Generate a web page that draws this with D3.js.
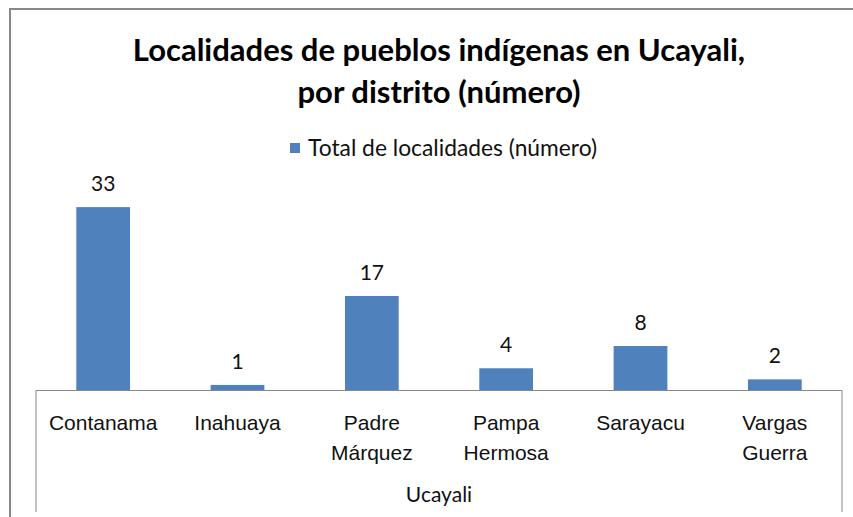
<!DOCTYPE html>
<html>
<head>
<meta charset="utf-8">
<script src="https://cdn.jsdelivr.net/npm/d3@7"></script>
<style>
  html, body { margin: 0; padding: 0; background: #fff; }
  svg { display: block; font-family: Lato, "Open Sans", sans-serif; }
</style>
</head>
<body>
<svg id="chart" width="853" height="517"></svg>
<script>
var titleLines = ['Localidades de pueblos indígenas en Ucayali,', 'por distrito (número)'];
var seriesName = 'Total de localidades (número)';
var groupLabel = 'Ucayali';
var categories = ['Contanama', 'Inahuaya', 'Padre Márquez', 'Pampa Hermosa', 'Sarayacu', 'Vargas Guerra'];
var categoryLines = [['Contanama'], ['Inahuaya'], ['Padre', 'Márquez'], ['Pampa', 'Hermosa'], ['Sarayacu'], ['Vargas', 'Guerra']];
var values = [33, 1, 17, 4, 8, 2];

var svg = d3.select('#chart');
var barColor = '#4f81bd';
var lineColor = '#878787';
var textColor = '#111';
var labelSize = '21px';

var plot = {left: 36, right: 842, bottom: 390.5, top: 196};

var x = d3.scaleBand()
    .domain(categories)
    .range([plot.left, plot.right])
    .paddingInner(0.6)
    .paddingOuter(0.3);

var y = d3.scaleLinear()
    .domain([0, 35])
    .range([plot.bottom, plot.top]);

// chart frame (cut by the window on the right and bottom)
svg.append('rect')
    .attr('x', 10).attr('y', 9)
    .attr('width', 900).attr('height', 600)
    .attr('fill', 'none')
    .attr('stroke', '#888')
    .attr('stroke-width', 2);

// title
svg.append('text')
    .attr('text-anchor', 'middle')
    .style('font-weight', 'bold')
    .style('font-size', '31px')
    .attr('fill', '#000')
  .selectAll('tspan')
    .data(titleLines)
  .enter().append('tspan')
    .attr('x', 439)
    .attr('y', function(d, i) { return 61 + i * 42; })
    .text(function(d) { return d; });

// legend
var legend = svg.append('g');
legend.append('rect')
    .attr('x', 290).attr('y', 143)
    .attr('width', 10).attr('height', 10)
    .attr('fill', barColor);
legend.append('text')
    .attr('x', 308).attr('y', 156)
    .style('font-size', '22.8px')
    .attr('fill', textColor)
    .text(seriesName);

// bars
svg.selectAll('rect.bar')
    .data(values)
  .enter().append('rect')
    .classed('bar', true)
    .attr('x', function(d, i) { return x(categories[i]); })
    .attr('y', function(d) { return y(d); })
    .attr('width', x.bandwidth())
    .attr('height', function(d) { return y(0) - y(d); })
    .attr('fill', barColor);

// data labels
svg.selectAll('text.label')
    .data(values)
  .enter().append('text')
    .classed('label', true)
    .attr('x', function(d, i) { return x(categories[i]) + x.bandwidth() / 2; })
    .attr('y', function(d) { return y(d) - 16; })
    .attr('text-anchor', 'middle')
    .style('font-size', labelSize)
    .attr('fill', textColor)
    .text(function(d) { return d; });

// category axis
var xAxis = d3.axisBottom(x).tickSize(0).tickFormat('');
var gx = svg.append('g')
    .attr('transform', 'translate(0,' + plot.bottom + ')')
    .call(xAxis);
gx.select('.domain').remove();

gx.selectAll('.tick').each(function(d) {
    var lines = categoryLines[categories.indexOf(d)];
    d3.select(this).select('text').remove();
    d3.select(this).append('text')
        .attr('text-anchor', 'middle')
        .style('font-size', labelSize)
        .attr('fill', textColor)
      .selectAll('tspan')
        .data(lines)
      .enter().append('tspan')
        .attr('x', 0)
        .attr('y', function(l, i) { return 39 + i * 30; })
        .text(function(l) { return l; });
});

svg.append('line')
    .attr('x1', plot.left).attr('x2', plot.right)
    .attr('y1', plot.bottom).attr('y2', plot.bottom)
    .attr('stroke', lineColor);
svg.selectAll('line.side')
    .data([plot.left, plot.right])
  .enter().append('line')
    .classed('side', true)
    .attr('x1', function(d) { return d; }).attr('x2', function(d) { return d; })
    .attr('y1', plot.bottom).attr('y2', 512)
    .attr('stroke', lineColor);

svg.append('text')
    .attr('x', (plot.left + plot.right) / 2)
    .attr('y', 502)
    .attr('text-anchor', 'middle')
    .style('font-size', labelSize)
    .attr('fill', textColor)
    .text(groupLabel);
</script>
</body>
</html>
